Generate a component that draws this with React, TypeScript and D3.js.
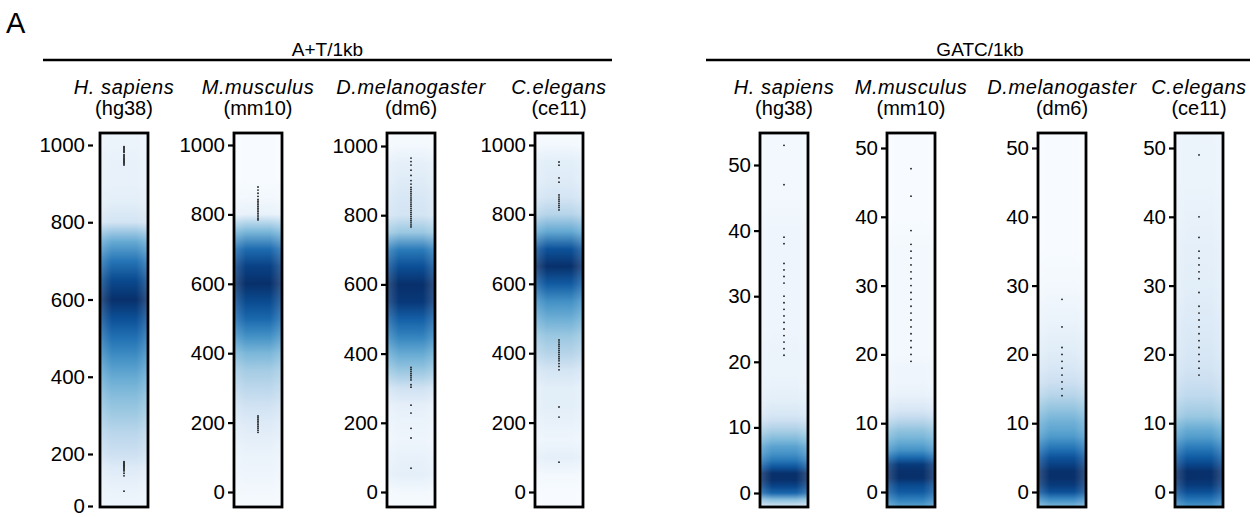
import { useEffect, useRef } from "react"
import * as d3 from "d3"

// species shown in both panels
const species = ["H. sapiens", "M.musculus", "D.melanogaster", "C.elegans"]
const assemblies = ["(hg38)", "(mm10)", "(dm6)", "(ce11)"]

// A+T per 1kb: density bins and relative density per genome
const atBins = [-50, 0, 50, 100, 150, 200, 250, 300, 350, 400, 450, 500, 550, 600, 650, 700, 750, 800, 850, 900, 950, 1000, 1050]
const atHs = [0.01, 0.02, 0.03, 0.05, 0.08, 0.14, 0.2, 0.28, 0.35, 0.44, 0.56, 0.7, 0.85, 1.0, 0.88, 0.68, 0.44, 0.12, 0.06, 0.04, 0.04, 0.03, 0.02]
const atMm = [0.0, 0.01, 0.02, 0.03, 0.05, 0.08, 0.13, 0.2, 0.27, 0.38, 0.56, 0.74, 0.88, 1.0, 0.92, 0.72, 0.38, 0.04, 0.01, 0.0, 0.0, 0.0, 0.0]
const atDm = [0.0, 0.01, 0.05, 0.04, 0.02, 0.03, 0.05, 0.13, 0.3, 0.44, 0.62, 0.78, 0.96, 1.0, 0.86, 0.66, 0.3, 0.12, 0.1, 0.07, 0.05, 0.01, 0.0]
const atCe = [0.0, 0.0, 0.01, 0.05, 0.02, 0.04, 0.06, 0.06, 0.11, 0.22, 0.3, 0.42, 0.56, 0.8, 1.0, 0.84, 0.45, 0.22, 0.11, 0.07, 0.06, 0.01, 0.0]

// A+T outlier points
const atHsOut = [996, 993, 990, 987, 984, 981, 975, 972, 969, 966, 963, 960, 957, 954, 951, 948, 171, 167, 163, 159, 155, 151, 147, 143, 139, 135, 126, 116, 57]
const atMmOut = [879, 870, 861, 852, 843, 838, 833, 828, 823, 818, 813, 808, 803, 798, 793, 788, 784, 219, 214, 209, 204, 199, 194, 189, 184, 178, 172]
const atDmOut = [965, 955, 945, 930, 915, 900, 890, 880, 874, 868, 862, 856, 850, 844, 838, 832, 826, 820, 814, 808, 802, 796, 790, 784, 778, 772, 766, 360, 354, 348, 342, 336, 330, 324, 310, 303, 251, 228, 184, 156, 69]
const atCeOut = [951, 942, 905, 893, 856, 850, 844, 838, 832, 826, 820, 813, 438, 432, 426, 420, 414, 408, 402, 396, 390, 384, 378, 370, 362, 352, 245, 216, 86]

// GATC per 1kb
const gatcBins = [-3, -2, -1, 0, 1, 2, 3, 4, 5, 6, 7, 8, 9, 10, 11, 12, 14, 16, 18, 20, 25, 30, 35, 40, 45, 50, 55]
const gatcHs = [0.08, 0.12, 0.35, 0.75, 0.9, 1.0, 1.0, 0.82, 0.66, 0.55, 0.48, 0.38, 0.3, 0.22, 0.15, 0.1, 0.06, 0.04, 0.03, 0.03, 0.02, 0.02, 0.02, 0.02, 0.01, 0.01, 0.01]
const gatcMm = [0.45, 0.5, 0.65, 0.8, 0.88, 1.0, 1.0, 0.95, 0.74, 0.56, 0.46, 0.38, 0.32, 0.24, 0.16, 0.1, 0.04, 0.02, 0.02, 0.01, 0.01, 0.01, 0.01, 0.0, 0.0, 0.0, 0.0]
const gatcDm = [0.3, 0.4, 0.6, 0.85, 0.95, 1.0, 1.0, 0.92, 0.84, 0.72, 0.62, 0.52, 0.46, 0.42, 0.37, 0.32, 0.22, 0.14, 0.1, 0.07, 0.03, 0.01, 0.0, 0.0, 0.0, 0.0, 0.0]
const gatcCe = [0.45, 0.55, 0.7, 0.85, 0.95, 1.0, 1.0, 0.9, 0.8, 0.7, 0.6, 0.5, 0.44, 0.37, 0.3, 0.26, 0.19, 0.15, 0.12, 0.1, 0.08, 0.06, 0.05, 0.04, 0.03, 0.03, 0.02]

const gatcHsOut = [53, 47, 39, 38, 35, 34, 33, 32, 30, 29, 28, 27, 26, 25, 24, 23, 22, 21]
const gatcMmOut = [47, 43, 38, 36, 35, 34, 33, 32, 31, 30, 29, 28, 27, 26, 25, 24, 23, 22, 21, 20, 19]
const gatcDmOut = [28, 24, 21, 20, 19, 18, 17, 16, 15, 14]
const gatcCeOut = [49, 40, 37, 35, 34, 33, 32, 31, 29, 27, 26, 25, 24, 23, 22, 21, 20, 19, 18, 17]

const atTicks = [0, 200, 400, 600, 800, 1000]
const gatcTicks = [0, 10, 20, 30, 40, 50]

const FONT = "'Liberation Sans', Arial, Helvetica, sans-serif"

export default function App() {
  const ref = useRef<SVGSVGElement>(null)

  useEffect(() => {
    const svg = d3.select(ref.current)
    svg.selectAll("*").remove()

    const defs = svg.append("defs")

    // slight lightening towards the strip edges
    const edge = defs.append("linearGradient")
      .attr("id", "edge-fade")
      .attr("x1", "0%").attr("x2", "100%")
    ;[[0, 0.18], [0.25, 0], [0.75, 0], [1, 0.18]].forEach(([o, a]) => {
      edge.append("stop")
        .attr("offset", o)
        .attr("stop-color", "#ffffff")
        .attr("stop-opacity", a)
    })

    const top = 133
    const bottom = 507
    const stripW = 48
    const color = (d: number) => d3.interpolateBlues(Math.pow(d, 0.8))

    const panels = [
      {
        title: "A+T/1kb",
        lineX: [43, 612],
        stripX: [100, 234, 387, 535],
        axisGap: [6, 0, 0, 0],
        bins: atBins,
        dens: [atHs, atMm, atDm, atCe],
        outs: [atHsOut, atMmOut, atDmOut, atCeOut],
        ticks: atTicks,
        scales: [
          d3.scaleLinear().domain([0, 200, 1000]).range([506, 454, 145]),
          d3.scaleLinear().domain([0, 1000]).range([492, 145]),
          d3.scaleLinear().domain([0, 1000]).range([492, 146]),
          d3.scaleLinear().domain([0, 1000]).range([492, 145]),
        ],
      },
      {
        title: "GATC/1kb",
        lineX: [706, 1250],
        stripX: [760, 887, 1038, 1175],
        axisGap: [0, 0, 0, 0],
        bins: gatcBins,
        dens: [gatcHs, gatcMm, gatcDm, gatcCe],
        outs: [gatcHsOut, gatcMmOut, gatcDmOut, gatcCeOut],
        ticks: gatcTicks,
        scales: [
          d3.scaleLinear().domain([0, 50]).range([493, 165]),
          d3.scaleLinear().domain([0, 50]).range([492, 148]),
          d3.scaleLinear().domain([0, 50]).range([492, 148]),
          d3.scaleLinear().domain([0, 50]).range([492, 148]),
        ],
      },
    ]

    // panel letter
    svg.append("text")
      .attr("x", 6)
      .attr("y", 33)
      .attr("font-family", FONT)
      .attr("font-size", 29)
      .text("A")

    panels.forEach((p, pi) => {
      // header line and title
      svg.append("line")
        .attr("x1", p.lineX[0]).attr("x2", p.lineX[1])
        .attr("y1", 60).attr("y2", 60)
        .attr("stroke", "#000")
        .attr("stroke-width", 2.5)

      svg.append("text")
        .attr("x", (p.lineX[0] + p.lineX[1]) / 2 + (pi === 0 ? 0 : 2))
        .attr("y", 56)
        .attr("text-anchor", "middle")
        .attr("font-family", FONT)
        .attr("font-size", 19)
        .text(p.title)

      p.stripX.forEach((x0, i) => {
        const y = p.scales[i]
        const cx = x0 + stripW / 2
        const id = `dens-${pi}-${i}`

        // species labels
        svg.append("text")
          .attr("x", cx)
          .attr("y", 94)
          .attr("text-anchor", "middle")
          .attr("font-family", FONT)
          .attr("font-size", 20)
          .attr("font-style", "italic")
          .attr("letter-spacing", 0.6)
          .text(species[i])

        svg.append("text")
          .attr("x", cx)
          .attr("y", 115)
          .attr("text-anchor", "middle")
          .attr("font-family", FONT)
          .attr("font-size", 20)
          .text(assemblies[i])

        // density gradient along the value axis
        const y1 = y(p.bins[0])
        const y2 = y(p.bins[p.bins.length - 1])
        const grad = defs.append("linearGradient")
          .attr("id", id)
          .attr("gradientUnits", "userSpaceOnUse")
          .attr("x1", 0).attr("x2", 0)
          .attr("y1", y1).attr("y2", y2)
        p.bins.forEach((b, k) => {
          grad.append("stop")
            .attr("offset", (y(b) - y1) / (y2 - y1))
            .attr("stop-color", color(p.dens[i][k]))
        })

        svg.append("rect")
          .attr("x", x0).attr("y", top)
          .attr("width", stripW).attr("height", bottom - top)
          .attr("fill", `url(#${id})`)

        svg.append("rect")
          .attr("x", x0).attr("y", top)
          .attr("width", stripW).attr("height", bottom - top)
          .attr("fill", "url(#edge-fade)")

        // outlier dots
        svg.append("g")
          .selectAll("circle")
          .data(p.outs[i])
          .join("circle")
          .attr("cx", cx)
          .attr("cy", d => y(d))
          .attr("r", 0.9)
          .attr("fill", "#1a1a1a")

        // frame
        svg.append("rect")
          .attr("x", x0).attr("y", top)
          .attr("width", stripW).attr("height", bottom - top)
          .attr("fill", "none")
          .attr("stroke", "#000")
          .attr("stroke-width", 2.8)

        // y axis
        const axis = svg.append("g")
          .attr("transform", `translate(${x0 - 1 - p.axisGap[i]},0)`)
          .call(d3.axisLeft(y).tickValues(p.ticks).tickSize(5).tickPadding(3).tickFormat(d3.format("d")))
        axis.select(".domain").remove()
        axis.selectAll("line").attr("stroke", "#000").attr("stroke-width", 2.2)
        axis.selectAll("text")
          .attr("font-family", FONT)
          .attr("font-size", 20.5)
          .attr("fill", "#000")
      })
    })
  }, [])

  return (
    <svg
      ref={ref}
      width={1256}
      height={517}
      style={{ position: "absolute", left: 0, top: 0, background: "#fff" }}
    />
  )
}
